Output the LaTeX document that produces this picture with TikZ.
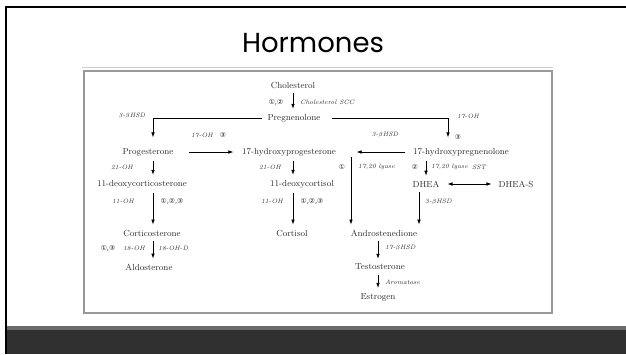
\documentclass[tikz,border=0pt]{standalone}
\usepackage{fontspec}
\newfontfamily\titlefont{Poppins}
\newfontfamily\circfont{DejaVu Sans}
\usetikzlibrary{arrows.meta}
\definecolor{slidedark}{HTML}{303030}
\definecolor{slidegrey}{HTML}{6B6B6B}
\definecolor{inktext}{HTML}{2E2E2E}

\begin{document}
\begin{tikzpicture}[x=1pt,y=-1pt,
  cpd/.style={font=\fontsize{8.8}{10}\selectfont, text=inktext, inner sep=2.5pt},
  enz/.style={font=\fontsize{6.4}{7}\selectfont\itshape, text=inktext, inner sep=1pt},
  num/.style={font=\circfont\fontsize{6.8}{8}\selectfont, text=inktext, inner sep=1pt},
  arr/.style={-{Latex[length=5pt,width=3.6pt]}, line width=0.7pt, shorten >=2.5pt, shorten <=2.5pt},
  twoway/.style={{Latex[length=5pt,width=3.6pt]}-{Latex[length=5pt,width=3.6pt]}, line width=0.7pt}]

% le cadre de la diapo
\fill[white] (0,0) rectangle (626,354);
\useasboundingbox (0,0) rectangle (626,354);
\fill[slidegrey] (7,326) rectangle (626,330);
\fill[slidedark] (7,330) rectangle (626,354);
\draw[line width=2.4pt] (6.2,354) -- (6.2,7.2) -- (626,7.2);
\node[font=\titlefont\fontsize{27.5}{30}\selectfont, anchor=base] (title) at (313,52) {Hormones};
\draw[black!20, line width=1pt] (82,67) -- (553,67);
\draw[black!40, line width=1.1pt] (84,71) rectangle (552,313);

% les molecules
\node[cpd] (chol) at (293,85) {Cholesterol};
\node[cpd] (preg) at (294,118) {Pregnenolone};
\node[cpd] (prog) at (148,152) {Progesterone};
\node[cpd] (ohprog) at (289,152) {17-hydroxyprogesterone};
\node[cpd] (ohpreg) at (461,152) {17-hydroxypregnenolone};
\node[cpd] (doc) at (142,184) {11-deoxycorticosterone};
\node[cpd] (dcort) at (302,184) {11-deoxycortisol};
\node[cpd] (dhea) at (426,184) {DHEA};
\node[cpd] (dheas) at (516,184) {DHEA-S};
\node[cpd] (cortico) at (152,233) {Corticosterone};
\node[cpd] (cortisol) at (292,233) {Cortisol};
\node[cpd] (andro) at (384,233) {Androstenedione};
\node[cpd] (aldo) at (149,267) {Aldosterone};
\node[cpd] (testo) at (380,267) {Testosterone};
\node[cpd] (estro) at (378,297) {Estrogen};

% les colonnes des fleches
\coordinate (lcol) at (153,0);
\coordinate (mcol) at (293,0);
\coordinate (rcol) at (448,0);
\coordinate (acol) at (378,0);
\coordinate (lyase) at (351,157);
\coordinate (dheadown) at ([xshift=-7pt]dhea.south);

% les fleches
\draw[arr] (chol.south) -- (chol.south |- preg.north);
\draw[arr, shorten >=8pt] (preg.west) -| (lcol |- prog.north);
\draw[arr, shorten <=9pt, shorten >=8pt] (preg.east) -| (rcol |- ohpreg.north);
\draw[arr, shorten <=13pt, shorten >=6pt] (prog.east) -- (ohprog.west);
\draw[arr, shorten <=5pt, shorten >=18pt] (ohpreg.west) -- (ohprog.east);
\draw[arr] (lcol |- prog.south) -- (lcol |- doc.north);
\draw[arr] (mcol |- ohprog.south) -- (mcol |- dcort.north);
\draw[arr, shorten <=0pt] (lyase) -- (lyase |- andro.north);
\draw[arr] (dhea.north |- ohpreg.south) -- (dhea.north);
\draw[twoway, shorten <=5.5pt, shorten >=4.5pt] (dhea.east) -- (dheas.west);
\draw[arr] (lcol |- doc.south) -- (lcol |- cortico.north);
\draw[arr] (mcol |- dcort.south) -- (mcol |- cortisol.north);
\draw[arr] (dheadown) -- (dheadown |- andro.north);
\draw[arr] (lcol |- cortico.south) -- (lcol |- aldo.north);
\draw[arr] (acol |- andro.south) -- (acol |- testo.north);
\draw[arr] (acol |- testo.south) -- (acol |- estro.north);

% les enzymes
\node[num] (n1) at (276,102) {①,②};
\node[enz, anchor=west] (e1) at (299,102) {Cholesterol SCC};
\node[enz] (e2) at (132,116) {3-$\beta$HSD};
\node[enz, anchor=west] (e3) at (456,116) {17-OH};
\node[num] (n2) at (458,137) {③};
\node[enz] (e4) at (202,135) {17-OH};
\node[num] (n3) at (223,135) {③};
\node[enz] (e5) at (385,135) {3-$\beta$HSD};
\node[enz] (e6) at (122,167) {21-OH};
\node[enz] (e7) at (270,167) {21-OH};
\node[num] (n4) at (342,167) {①};
\node[enz, anchor=west] (e8) at (357,167) {17,20 lyase};
\node[num] (n5) at (415,167) {②};
\node[enz, anchor=west] (e9) at (430,167) {17,20 lyase};
\node[enz] (e10) at (479,167) {SST};
\node[enz] (e11) at (123,201) {11-OH};
\node[num] (n6) at (172,201) {①,②,③};
\node[enz] (e12) at (272,201) {11-OH};
\node[num] (n7) at (312,201) {①,②,③};
\node[enz, anchor=west] (e13) at (424,202) {3-$\beta$HSD};
\node[num] (n8) at (108,248) {①,③};
\node[enz] (e14) at (134,248) {18-OH};
\node[enz, anchor=west] (e15) at (157,248) {18-OH-D};
\node[enz, anchor=west] (e16) at (384,248) {17-$\beta$HSD};
\node[enz, anchor=west] (e17) at (384,282) {Aromatase};
\end{tikzpicture}
\end{document}
